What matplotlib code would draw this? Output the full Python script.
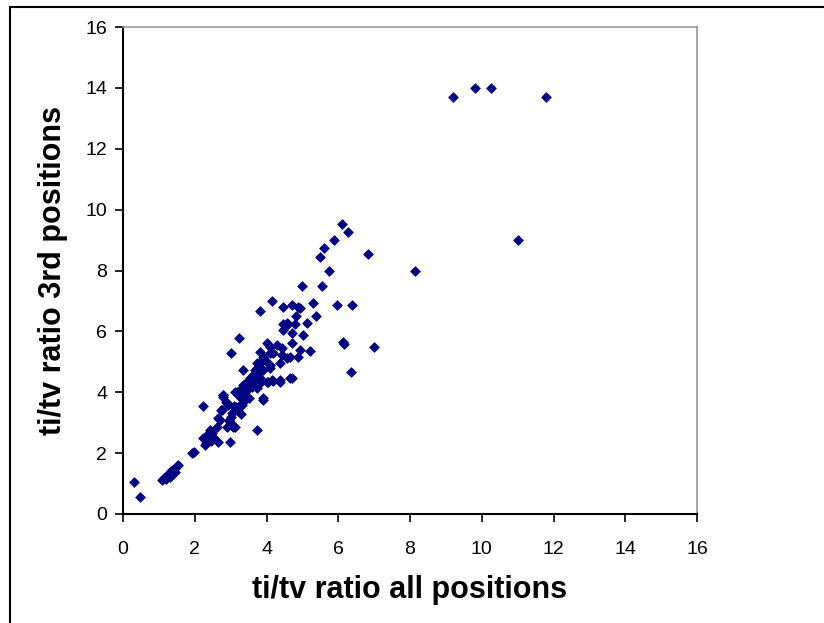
import matplotlib
matplotlib.use("Agg")
import matplotlib.pyplot as plt
from matplotlib.patches import Rectangle

plt.rcParams['font.family'] = ['Liberation Sans', 'DejaVu Sans']

# ti/tv ratio, all positions (x) vs 3rd codon positions (y)
ti_tv_all = [
    0.31, 0.47,
    1.10, 1.15, 1.18, 1.22, 1.25, 1.28, 1.32, 1.35, 1.38, 1.42, 1.46, 1.50, 1.53,
    1.92, 1.98, 2.23, 2.28, 2.34, 2.42, 2.23, 2.30, 2.40, 2.48,
    2.65, 2.98, 2.62, 2.70, 2.76, 2.79, 2.87, 2.92, 2.90, 2.98, 3.06, 3.04, 3.12,
    3.04, 3.12, 3.20, 3.31, 3.34, 3.18, 3.26, 3.40, 3.54, 3.45, 3.73, 3.82, 4.04,
    4.37, 4.18, 4.00, 4.71, 3.90, 3.73, 2.73, 2.79, 2.90, 2.65, 3.18, 3.26,
    3.34, 3.45, 3.62, 3.76, 3.82, 3.96, 4.10, 3.00, 3.23, 3.34,
    3.82, 4.00, 4.10, 4.29, 4.43, 4.71, 4.93, 5.21, 4.65, 4.43, 4.57, 4.88,
    4.18, 3.90, 3.82, 4.10, 4.37, 3.73, 3.68, 3.90, 4.10, 3.62, 3.82, 3.54,
    3.45, 3.73, 4.15, 4.37, 4.65, 3.34, 3.59, 3.26, 3.12, 2.79, 3.90, 3.50,
    4.57, 4.79, 4.46, 4.71, 5.01, 5.13, 6.13, 6.16, 6.99, 6.35,
    5.74, 4.99, 5.54, 4.15, 3.82, 4.46, 4.71, 4.88, 4.93, 5.29, 5.96, 6.38,
    4.82, 5.38, 4.60, 4.46,
    6.10, 6.27, 5.88, 5.60, 5.49, 6.82, 8.15, 11.00,
    9.20, 9.80, 10.25, 11.80,
    3.10, 3.20, 3.28, 3.55, 3.65, 3.00, 2.95, 3.15, 2.55, 2.45,
    1.20, 1.30, 1.40, 1.35, 1.45,
]
ti_tv_3rd = [
    1.05, 0.56,
    1.12, 1.18, 1.20, 1.25, 1.28, 1.32, 1.36, 1.40, 1.44, 1.48, 1.52, 1.58, 1.62,
    2.00, 2.04, 3.55, 2.27, 2.60, 2.76, 2.50, 2.33, 2.45, 2.66,
    2.37, 2.37, 2.86, 3.09, 3.42, 3.84, 3.68, 3.58, 2.86, 3.02, 2.86, 2.92, 2.86,
    3.32, 3.42, 3.52, 3.58, 3.68, 3.97, 4.07, 4.24, 4.34, 4.07, 4.14, 4.30, 4.34,
    4.34, 4.37, 4.34, 4.47, 3.74, 2.75, 3.42, 3.91, 3.65, 3.15, 4.00, 3.84,
    3.90, 4.24, 4.47, 4.63, 4.83, 5.06, 5.29, 5.28, 5.78, 4.73,
    5.32, 5.62, 5.49, 5.55, 5.45, 5.62, 5.39, 5.35, 5.16, 5.22, 5.12, 5.16,
    5.29, 5.16, 4.96, 4.90, 4.96, 4.96, 4.73, 4.73, 4.80, 4.57, 4.47, 4.47,
    4.34, 4.34, 4.40, 4.40, 4.47, 4.24, 4.17, 4.07, 4.00, 3.91, 3.81, 3.80,
    6.27, 6.24, 6.04, 5.95, 5.88, 6.27, 5.65, 5.60, 5.50, 4.68,
    8.00, 7.50, 7.50, 7.00, 6.68, 6.80, 6.86, 6.80, 6.76, 6.92, 6.86, 6.86,
    6.52, 6.52, 6.24, 6.24,
    9.53, 9.26, 9.00, 8.74, 8.44, 8.55, 8.00, 9.00,
    13.70, 14.00, 14.00, 13.70,
    3.55, 3.40, 3.30, 4.20, 4.35, 3.20, 3.10, 3.50, 2.50, 2.40,
    1.15, 1.22, 1.30, 1.42, 1.38,
]

x_ticks = [0, 2, 4, 6, 8, 10, 12, 14, 16]
y_ticks = [0, 2, 4, 6, 8, 10, 12, 14, 16]

fig = plt.figure(figsize=(8.24, 6.23), dpi=100)
ax = fig.add_axes([123 / 824, 1 - 514 / 623, 574 / 824, 487 / 623])

# outer chart frame (runs past the right and bottom edge)
fig.patches.append(Rectangle((10 / 824, -0.02), 1.0, 1 - 7 / 623 + 0.02,
                             transform=fig.transFigure, fill=False,
                             edgecolor='black', linewidth=1.5))

ax.scatter(ti_tv_all, ti_tv_3rd, marker='D', s=24, color='#000080',
           edgecolors='#000080', linewidths=0.6, zorder=3, clip_on=False)

ax.set_xlim(0, 16)
ax.set_ylim(0, 16)
ax.set_xticks(x_ticks)
ax.set_yticks(y_ticks)
ax.tick_params(direction='out', length=5.5, width=1.2, labelsize=14)
ax.tick_params(axis='x', pad=14)
ax.tick_params(axis='y', pad=6)

for side in ['left', 'bottom']:
    ax.spines[side].set_color('black')
    ax.spines[side].set_linewidth(1.5)
for side in ['top', 'right']:
    ax.spines[side].set_color('#999999')
    ax.spines[side].set_linewidth(1.2)

ax.set_xlabel('ti/tv ratio all positions', fontsize=22, fontweight='bold', labelpad=12)
ax.set_ylabel('ti/tv ratio 3rd positions', fontsize=22, fontweight='bold', labelpad=12)

fig.savefig('out.png', dpi=100)
